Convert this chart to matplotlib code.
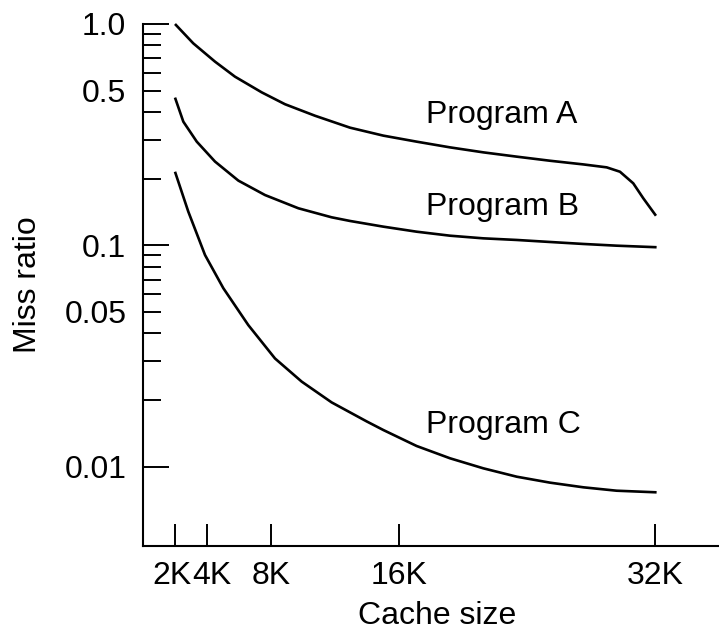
import matplotlib
matplotlib.use("Agg")
import matplotlib.pyplot as plt
import matplotlib.transforms as mtransforms
from matplotlib.ticker import FixedLocator, FixedFormatter

plt.rcParams['font.family'] = ['Liberation Sans', 'DejaVu Sans']

# ---- data (cache size in K, miss ratio) ----
size_a = [2.0, 3.14, 4.5, 5.75, 7.42, 8.875, 10.75, 12.94, 15.02, 17.1, 19.19, 21.27,
          23.36, 25.44, 27.52, 28.98, 29.81, 30.64, 31.27, 32.06]
miss_a = [1.0, 0.818, 0.676, 0.578, 0.491, 0.434, 0.385, 0.340, 0.313, 0.294, 0.277, 0.263,
          0.2515, 0.241, 0.232, 0.225, 0.215, 0.1906, 0.163, 0.136]

size_b = [2.0, 2.52, 3.36, 4.5, 5.96, 7.625, 9.71, 11.79, 12.94, 15.02, 17.1, 19.19,
          21.27, 23.36, 25.44, 27.52, 29.6, 32.1]
miss_b = [0.465, 0.362, 0.294, 0.239, 0.196, 0.1687, 0.147, 0.1338, 0.1288, 0.1214, 0.1152, 0.1105,
          0.1075, 0.1057, 0.1035, 0.1014, 0.0996, 0.098]

size_c = [2.0, 2.83, 3.875, 5.02, 6.58, 8.25, 9.92, 11.79, 13.98, 15.02, 17.1, 19.19,
          21.27, 23.36, 25.44, 27.52, 29.6, 32.1]
miss_c = [0.215, 0.142, 0.0904, 0.064, 0.0436, 0.0308, 0.0242, 0.0195, 0.0160, 0.01463, 0.01239, 0.0109,
          0.00982, 0.0090, 0.00846, 0.00806, 0.00778, 0.00765]

series_names = ["Program A", "Program B", "Program C"]
label_x = [17.7, 17.7, 17.7]
label_y = [0.356, 0.137, 0.01414]

x_ticks = [2, 4, 8, 16, 32]
x_tick_labels = ["2K", "4K", "8K", "16K", "32K"]
y_major = [0.01, 0.1, 1.0]
y_major_labels = ["0.01", "0.1", "1.0"]
y_minor = [0.02, 0.03, 0.04, 0.05, 0.06, 0.07, 0.08, 0.09,
           0.2, 0.3, 0.4, 0.5, 0.6, 0.7, 0.8, 0.9]
y_minor_labels = ["", "", "", "0.05", "", "", "", "",
                  "", "", "", "0.5", "", "", "", ""]

FS = 23
fig = plt.figure(figsize=(7.19, 6.34), dpi=100)
ax = fig.add_axes([143 / 719, 88.3 / 634, 1 - 143 / 719, (545.7 - 24) / 634])

for xs, ys in [(size_a, miss_a), (size_b, miss_b), (size_c, miss_c)]:
    ax.plot(xs, ys, color="black", lw=1.9, clip_on=False,
            solid_capstyle="butt", solid_joinstyle="round")

for name, lx, ly in zip(series_names, label_x, label_y):
    ax.text(lx, ly, name, fontsize=FS, ha="left", va="baseline")

ax.set_yscale("log")
ax.set_xlim(0, 36)
ax.set_ylim(0.00439, 1.0)

ax.yaxis.set_major_locator(FixedLocator(y_major))
ax.yaxis.set_major_formatter(FixedFormatter(y_major_labels))
ax.yaxis.set_minor_locator(FixedLocator(y_minor))
ax.yaxis.set_minor_formatter(FixedFormatter(y_minor_labels))
ax.xaxis.set_major_locator(FixedLocator(x_ticks))
ax.xaxis.set_major_formatter(FixedFormatter(x_tick_labels))
ax.xaxis.set_minor_locator(FixedLocator([]))

ax.tick_params(axis="y", which="major", direction="in", length=18.5, width=1.4,
               pad=12, labelsize=FS)
ax.tick_params(axis="y", which="minor", direction="in", length=12.7, width=1.4,
               pad=12, labelsize=FS)
ax.tick_params(axis="x", which="major", direction="in", length=15.6, width=1.4,
               pad=11, labelsize=FS)

for s in ["top", "right"]:
    ax.spines[s].set_visible(False)
for s in ["left", "bottom"]:
    ax.spines[s].set_linewidth(1.5)

ax.set_xlabel("Cache size", fontsize=FS, ha="center", va="center")
ax.xaxis.set_label_coords((437 - 143) / 576, (634 - 616.5 - 88.3) / 521.7)
ax.set_ylabel("Miss ratio", fontsize=FS, ha="center", va="center",
              rotation_mode="default")
ax.yaxis.set_label_coords((27.5 - 143) / 576, 0.5)

# nudge the crowded "2K" / "4K" labels apart, as in the reference
xt = ax.xaxis.get_major_ticks()
for tick, dx_px in zip(xt[:2], [-3.5, 4.5]):
    tick.label1.set_transform(tick.label1.get_transform() +
                              mtransforms.ScaledTranslation(dx_px / 100, 0, fig.dpi_scale_trans))

fig.savefig("out.png", dpi=100)
